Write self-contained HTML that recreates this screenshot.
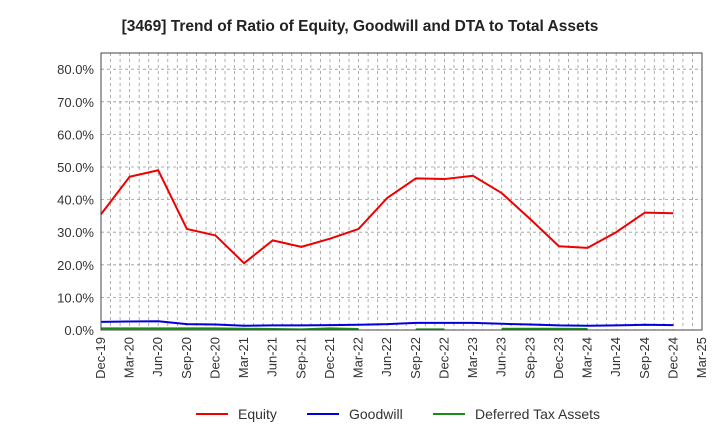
<!DOCTYPE html>
<html><head><meta charset="utf-8"><style>
body{margin:0;background:#fff;font-family:"Liberation Sans",sans-serif}
svg text{font-family:"Liberation Sans",sans-serif}
</style></head><body>
<svg width="720" height="440" xmlns="http://www.w3.org/2000/svg">
<text x="360" y="31" text-anchor="middle" font-size="15.5" font-weight="bold" fill="#222">[3469]  Trend of Ratio of Equity, Goodwill and DTA to Total Assets</text>
<g id="grid"></g>
<g id="yaxis"></g>
<g id="xaxis"></g>
<g id="series"></g>
<rect x="101" y="53" width="601" height="277" fill="none" stroke="#444" stroke-width="1"/>
<g>
<g><line x1="196" y1="414" x2="228" y2="414" stroke="#e00" stroke-width="2"/><text x="238" y="419" font-size="14" fill="#333">Equity</text></g>
<g><line x1="307" y1="414" x2="339" y2="414" stroke="#00d" stroke-width="2"/><text x="349" y="419" font-size="14" fill="#333">Goodwill</text></g>
<g><line x1="433" y1="414" x2="465" y2="414" stroke="#1a8a1a" stroke-width="2"/><text x="475" y="419" font-size="14" fill="#333">Deferred Tax Assets</text></g>
</g>
</svg>
<script>
const categories=["Dec-19","Mar-20","Jun-20","Sep-20","Dec-20","Mar-21","Jun-21","Sep-21","Dec-21","Mar-22","Jun-22","Sep-22","Dec-22","Mar-23","Jun-23","Sep-23","Dec-23","Mar-24","Jun-24","Sep-24","Dec-24","Mar-25"];
const equity=[35.5,47,49,31,29,20.5,27.5,25.5,28,31,40.5,46.5,46.3,47.3,42,34,25.7,25.2,30,36,35.8,null];
const goodwill=[2.5,2.6,2.7,1.8,1.7,1.3,1.4,1.4,1.5,1.6,1.8,2.2,2.2,2.2,1.9,1.7,1.4,1.3,1.4,1.6,1.5,null];
const dta=[0.5,0.5,0.5,0.5,0.5,0.4,0.3,0.2,0.5,0.3,null,0.2,0.2,null,0.4,0.4,0.4,0.3,null,null,null,null];
const yTicks=[0,10,20,30,40,50,60,70,80];
const X0=101,X1=702,Y0=330,YPER=3.26;
const xs=i=>X0+i*(X1-X0)/(categories.length-1);
const ys=v=>Y0-v*YPER;
const NS="http://www.w3.org/2000/svg";
function mk(t,a,p){const e=document.createElementNS(NS,t);for(const k in a)e.setAttribute(k,a[k]);p.appendChild(e);return e;}
const grid=document.getElementById('grid'),ya=document.getElementById('yaxis'),xa=document.getElementById('xaxis'),se=document.getElementById('series');
for(let m=1;m<(categories.length-1)*3;m++){const x=X0+m*(X1-X0)/((categories.length-1)*3);
const l=mk('line',{x1:x,x2:x,y1:53,y2:330,stroke:'#999','stroke-dasharray':'3,3','stroke-width':0.8},grid);

}
yTicks.forEach(v=>{if(v===0)return;const y=ys(v);
const l=mk('line',{x1:X0,x2:X1,y1:y,y2:y,stroke:'#999','stroke-dasharray':'3,3','stroke-width':0.8},grid);

});
yTicks.forEach(v=>{const t=mk('text',{x:94,y:ys(v)+5,'text-anchor':'end','font-size':13,fill:'#333'},ya);t.textContent=v.toFixed(1)+'%';

});
categories.forEach((c,i)=>{const x=xs(i);const t=mk('text',{x:x+4,y:337,'text-anchor':'end','font-size':13,fill:'#333',transform:`rotate(-90 ${x+4} 337)`},xa);t.textContent=c;

});
function draw(arr,color,name){let d='',pen=false;arr.forEach((v,i)=>{if(v==null){pen=false;return;}d+=(pen?'L':'M')+xs(i)+','+ys(v)+' ';pen=true;});
const p=mk('path',{d:d,fill:'none',stroke:color,'stroke-width':2,'stroke-linejoin':'round'},se);

}
draw(dta,'#1a8a1a','dta-line');
draw(goodwill,'#00d','goodwill-line');
draw(equity,'#e00','equity-line');
</script>
</body></html>
